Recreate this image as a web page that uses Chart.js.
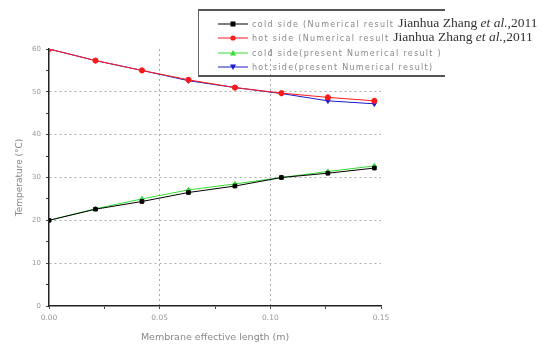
<!DOCTYPE html>
<html>
<head>
<meta charset="utf-8">
<script src="https://cdn.jsdelivr.net/npm/chart.js@4"></script>
<style>
  html, body { margin: 0; padding: 0; background: #fff; }
  #wrap { position: relative; width: 543px; height: 347px; }
  #legend {
    position: absolute; left: 198px; top: 9px; width: 247px; height: 68px;
    border-top: 2px solid #555; border-left: 1px solid #666; border-bottom: 2px solid #555;
    box-sizing: border-box;
  }
  .item { position: absolute; left: 19px; height: 11px; white-space: nowrap; line-height: 9px;
    font-family: "DejaVu Sans", sans-serif; font-size: 8px; color: #888; letter-spacing: 1.3px; }
  .item svg { position: absolute; left: 0; top: 0; }
  .item span.t { position: absolute; left: 34px; top: 2px; }
  .ref { font-family: "Liberation Serif", serif; font-size: 13.5px; color: #333; letter-spacing: 0; line-height: 0; }
</style>
</head>
<body>
<div id="wrap">
  <canvas id="tempChart" width="543" height="347"></canvas>
  <div id="legend"></div>
</div>
<script>
// values
const lengths = [0, 0.021, 0.042, 0.063, 0.084, 0.105, 0.126, 0.147];
const coldRef = [20, 22.6, 24.4, 26.5, 28.0, 30.0, 31.0, 32.2];
const hotRef = [60, 57.3, 55.0, 52.8, 51.0, 49.7, 48.7, 47.9];
const coldPresent = [20, 22.7, 25.0, 27.1, 28.5, 30.0, 31.4, 32.7];
const hotPresent = [60, 57.3, 55.0, 52.6, 51.0, 49.6, 47.9, 47.2];

const xTicks = [0, 0.05, 0.10, 0.15];
const yTicks = [0, 10, 20, 30, 40, 50, 60];

const seriesNames = [
    ['cold side (Numerical result ', 'Jianhua Zhang <i>et al.</i>,2011'],
    ['hot side (Numerical result ', 'Jianhua Zhang <i>et al.</i>,2011'],
    ['cold side(present Numerical result )', ''],
    ['hot side(present Numerical result)', '']
];
const colors = ['#000000', '#ff1a1a', '#33dd33', '#1a1acc'];
const markers = ['rect', 'circle', 'triangle', 'triangle'];
const rotations = [0, 0, 0, 180];

function pts(ys) {
    return lengths.map((x, i) => ({x: x, y: ys[i]}));
}

const allSeries = [coldRef, hotRef, coldPresent, hotPresent];

const near = (v, list) => list.some(t => Math.abs(t - v) < 1e-6);

const ctx = document.getElementById('tempChart').getContext('2d');
const tempChart = new Chart(ctx, {
    type: 'line',
    data: {
        datasets: allSeries.map((ys, i) => ({
            label: seriesNames[i][0],
            data: pts(ys),
            borderColor: colors[i],
            backgroundColor: colors[i],
            borderWidth: 1,
            pointStyle: markers[i],
            rotation: rotations[i],
            pointRadius: 2.6,
            tension: 0
        }))
    },
    options: {
        responsive: false,
        animation: false,
        layout: { padding: { left: 0, top: 49, right: 162, bottom: 0 } },
        plugins: {
            legend: { display: false },
            tooltip: { enabled: false }
        },
        scales: {
            x: {
                type: 'linear',
                min: 0,
                max: 0.15,
                afterFit: s => { s.height = 41; },
                ticks: {
                    stepSize: 0.025,
                    autoSkip: false,
                    maxRotation: 0,
                    padding: 5,
                    color: '#999',
                    font: { family: 'DejaVu Sans', size: 7.5 },
                    callback: v => near(v, xTicks) ? v.toFixed(2) : ''
                },
                grid: {
                    color: c => (c.tick && near(c.tick.value, [0.05, 0.10])) ? '#aaa' : 'rgba(0,0,0,0)',
                    tickColor: '#444',
                    tickLength: 3
                },
                border: { display: true, color: '#222', width: 1.5, dash: [2, 3] },
                title: {
                    display: true,
                    text: 'Membrane effective length (m)',
                    color: '#888',
                    font: { family: 'DejaVu Sans', size: 9.5 },
                    padding: { top: 6 }
                }
            },
            y: {
                min: 0,
                max: 60,
                afterFit: s => { s.width = 49; },
                ticks: {
                    stepSize: 5,
                    autoSkip: false,
                    padding: 5,
                    color: '#999',
                    font: { family: 'DejaVu Sans', size: 7 },
                    callback: v => near(v, yTicks) ? String(v) : ''
                },
                grid: {
                    color: c => (c.tick && near(c.tick.value, [10, 20, 30, 40, 50])) ? '#aaa' : 'rgba(0,0,0,0)',
                    tickColor: '#444',
                    tickLength: 3
                },
                border: { display: true, color: '#222', width: 1.5, dash: [2, 3] },
                title: {
                    display: true,
                    text: 'Temperature (\u00B0C)',
                    color: '#888',
                    font: { family: 'DejaVu Sans', size: 9 },
                    padding: { top: 14, bottom: 2 }
                }
            }
        }
    }
});

// legend with mixed fonts, drawn as HTML
const legend = document.getElementById('legend');
seriesNames.forEach((name, i) => {
    const d = document.createElement('div');
    d.className = 'item';
    d.style.top = (7 + i * 14.3) + 'px';
    let m;
    if (markers[i] === 'rect') m = '<rect x="12.5" y="3.5" width="5" height="5" fill="' + colors[i] + '"/>';
    else if (markers[i] === 'circle') m = '<circle cx="15" cy="6" r="2.6" fill="' + colors[i] + '"/>';
    else if (rotations[i] === 0) m = '<polygon points="15,3 18,8.5 12,8.5" fill="' + colors[i] + '"/>';
    else m = '<polygon points="12,3.5 18,3.5 15,9" fill="' + colors[i] + '"/>';
    d.innerHTML = '<svg width="30" height="11"><line x1="0" y1="6" x2="30" y2="6" stroke="' + colors[i] + '" stroke-width="1"/>' + m + '</svg>' +
        '<span class="t">' + name[0] + (name[1] ? '<span class="ref">' + name[1] + '</span>' : '') + '</span>';
    legend.appendChild(d);
});
</script>
</body>
</html>
